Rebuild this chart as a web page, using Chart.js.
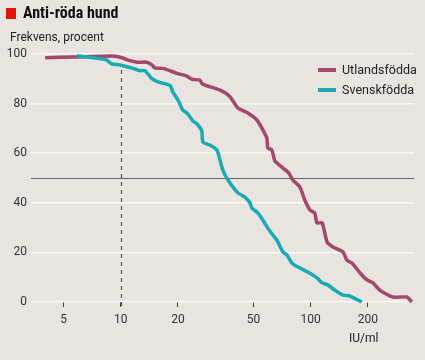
<!DOCTYPE html>
<html>
<head>
<meta charset="utf-8">
<script src="https://cdn.jsdelivr.net/npm/chart.js@4.4.1/dist/chart.umd.min.js"></script>
<style>
  html,body{margin:0;padding:0;}
  body{width:425px;height:360px;background:#e8e4df;position:relative;overflow:hidden;font-family:Roboto,"Liberation Sans",sans-serif;color:#222;}
  #wrap{position:absolute;left:0;top:0;width:425px;height:360px;}
  .sq{position:absolute;left:6px;top:8px;width:10px;height:11px;background:#e3120b;}
  .title{position:absolute;left:23px;top:3px;font-family:"Liberation Sans Narrow","Roboto Condensed",Roboto,sans-serif;font-weight:bold;font-size:16px;line-height:20px;color:#111;}
  .sub{position:absolute;left:10px;top:29px;font-size:12px;line-height:16px;color:#222;}
  .unit{position:absolute;left:349px;top:330px;font-size:12px;line-height:16px;color:#222;}
  .leg{position:absolute;left:318px;font-size:12.5px;line-height:16px;color:#222;}
  .leg span{display:inline-block;width:18px;height:4px;vertical-align:middle;margin-right:6px;position:relative;top:-1px;}
</style>
</head>
<body>
<div id="wrap"><canvas id="c" width="425" height="360"></canvas></div>
<div class="sq"></div>
<div class="title">Anti-röda hund</div>
<div class="sub">Frekvens, procent</div>
<div class="unit">IU/ml</div>
<div class="leg" style="top:62px"><span style="background:#a5466b"></span>Utlandsfödda</div>
<div class="leg" style="top:82px"><span style="background:#19aab4"></span>Svenskfödda</div>
<script>
// Data
const seriesNames = ["Utlandsfödda", "Svenskfödda"];
const utlandsX = [4.0,5.74,9.1,10.15,11.2,12.2,13.7,14.6,15.1,16.7,19.8,22.3,23.7,26.1,26.7,27.7,33.2,37.6,41.4,46.7,52.1,56.0,58.8,59.5,62.5,64.8,70.5,76.8,80.5,87.7,93.1,99.1,105,108,115,122,131,148,155,165,182,198,213,231,271,321,341];
const utlandsY = [98.5,98.8,99.2,98.5,97.3,96.7,96.7,95.6,94.4,94.2,92.2,91.1,89.8,89.5,88.2,87.5,85.5,82.8,78.2,76.2,73.4,69.4,66.1,62.1,61.3,56.9,54.4,52.0,49.2,46.4,41.1,37.1,35.9,31.9,31.9,24.2,22.2,20.2,16.9,15.7,11.7,8.9,7.7,4.8,2.0,2.0,0];
const svenskX = [5.86,7.14,8.43,8.95,9.9,11.6,12.6,13.4,14.5,15.7,18.2,18.8,20.0,21.2,22.3,24.0,25.2,26.7,27.1,29.5,32.1,33.3,34.5,36.7,41.4,45.1,47.9,49.0,52.7,56.0,59.5,63.2,66.4,71.4,75.0,79.6,85.7,96.6,108,115,123,134,148,161,186];
const svenskY = [99.3,98.5,97.6,96.0,95.6,94.2,93.3,93.3,90.3,88.8,87.3,84.7,81.5,77.4,76.2,73.0,71.8,69.0,64.5,63.3,61.3,57.3,53.2,49.2,44.0,42.3,39.9,37.9,35.9,33.1,29.8,27.0,25.0,20.2,19.0,15.7,14.1,12.1,9.7,7.7,6.9,4.8,2.8,2.4,0];
const xTickValues = [5,10,20,50,100,200];
const yTickValues = [0,20,40,60,80,100];
const refX = 10;   // dashed vertical reference
const refY = 50;   // horizontal reference

const toPts = (xs, ys) => xs.map((x,i)=>({x:x, y:ys[i]}));

const refLines = {
  id:'refLines',
  beforeDatasetsDraw(chart){
    const {ctx, chartArea:a, scales:{x,y}} = chart;
    ctx.save();
    ctx.strokeStyle = '#666';
    ctx.lineWidth = 1.2;
    const yy = Math.round(y.getPixelForValue(refY))+0.5;
    ctx.beginPath(); ctx.moveTo(a.left, yy); ctx.lineTo(a.right, yy); ctx.stroke();
    const xx = Math.round(x.getPixelForValue(refX))+0.5;
    ctx.strokeStyle = '#555';
    ctx.lineWidth = 1.2;
    ctx.setLineDash([4,4]);
    ctx.beginPath(); ctx.moveTo(xx, y.getPixelForValue(0)+4); ctx.lineTo(xx, y.getPixelForValue(96)); ctx.stroke();
    ctx.restore();
  }
};

new Chart(document.getElementById('c'), {
  type:'scatter',
  data:{
    datasets:[
      {label:seriesNames[0], data:toPts(utlandsX, utlandsY), showLine:true, borderColor:'#a5466b', backgroundColor:'#a5466b', borderWidth:3.5, pointRadius:0, tension:0.2, clip:false, borderJoinStyle:'round', order:1},
      {label:seriesNames[1], data:toPts(svenskX, svenskY), showLine:true, borderColor:'#19aab4', backgroundColor:'#19aab4', borderWidth:3.5, pointRadius:0, tension:0.2, clip:false, borderJoinStyle:'round', order:0}
    ]
  },
  options:{
    responsive:false,
    animation:false,
    events:[],
    layout:{padding:{top:54, right:11, left:0, bottom:0}},
    plugins:{legend:{display:false}, tooltip:{enabled:false}},
    scales:{
      x:{
        type:'logarithmic', min:3.37, max:350,
        afterBuildTicks(s){ s.ticks = xTickValues.map(v=>({value:v})); },
        afterFit(s){ s.height = 58; },
        grid:{display:true, drawOnChartArea:false, drawTicks:true, tickLength:5, tickColor:'#444', tickWidth:1},
        border:{display:false},
        ticks:{color:'#333', font:{family:'Roboto', size:12}, padding:6, autoSkip:false, maxRotation:0, callback:(v)=>String(v)}
      },
      y:{
        min:0, max:100,
        afterBuildTicks(s){ s.ticks = yTickValues.map(v=>({value:v})); },
        afterFit(s){ s.width = 31; },
        grid:{color:'#faf8f5', lineWidth:1.5, drawTicks:false},
        border:{display:false},
        ticks:{color:'#333', font:{family:'Roboto', size:12}, padding:4}
      }
    }
  },
  plugins:[refLines]
});
</script>
</body>
</html>
